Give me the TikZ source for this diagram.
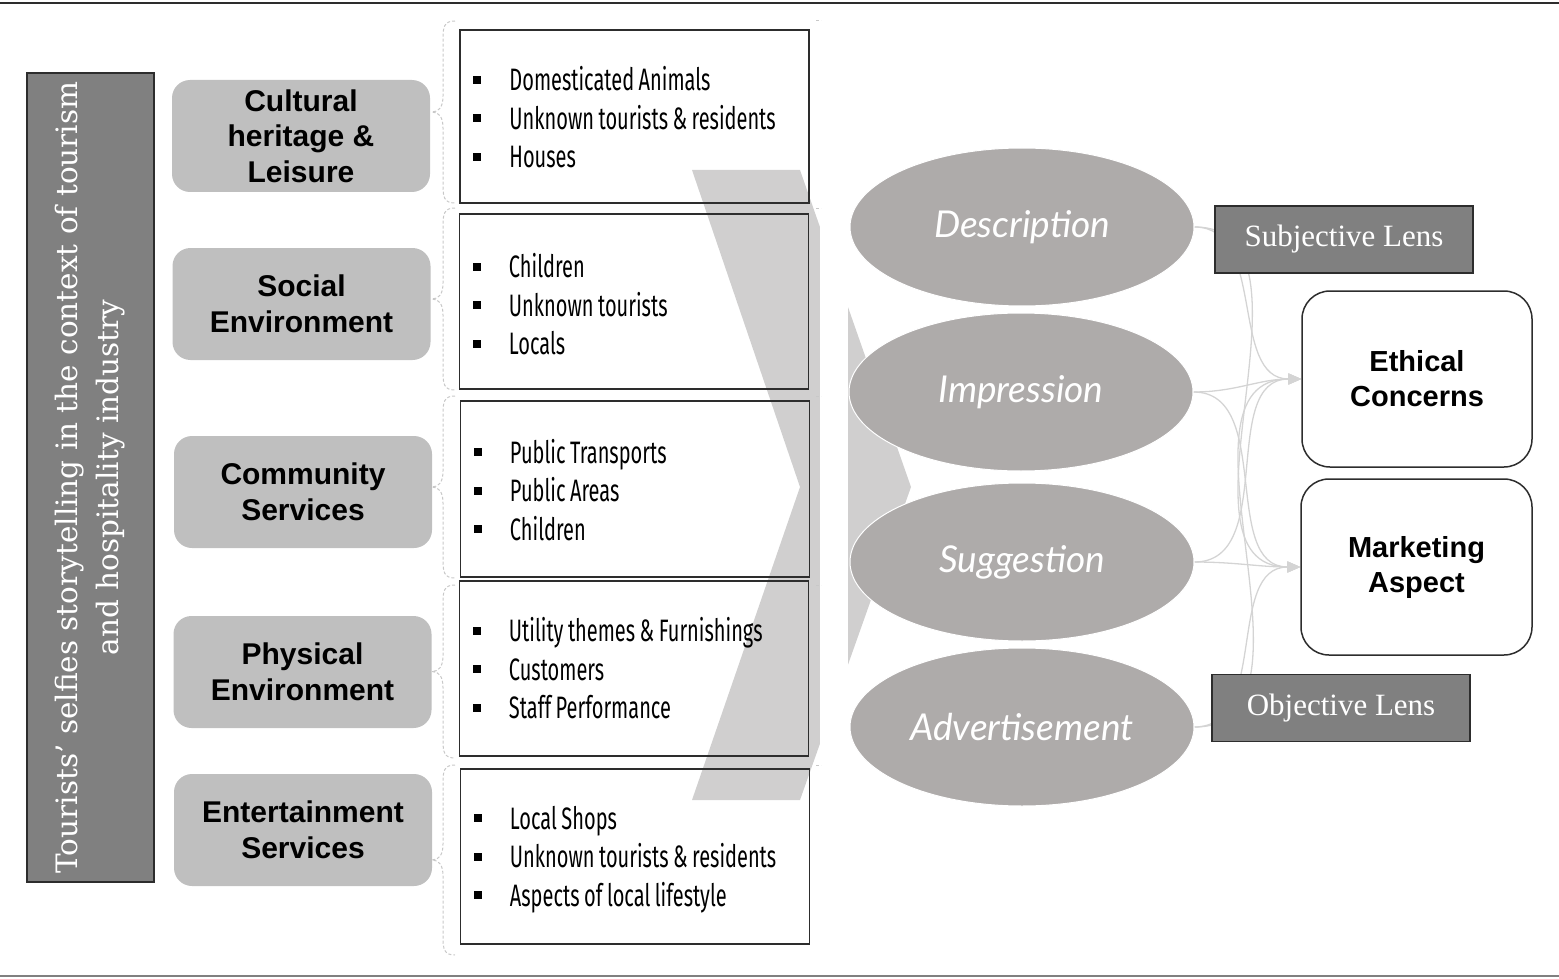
\documentclass[tikz,border=0pt]{standalone}
\usepackage{fontspec}
\setmainfont{Liberation Sans}
\newfontfamily\itemfont{Fira Sans}[FakeStretch=0.645, WordSpace=0.85]
\newfontfamily\ellfont{Lato}
\newfontfamily\lensfont{Liberation Serif}
\newfontfamily\vertfont{DejaVu Serif}
\usetikzlibrary{shapes.geometric,arrows.meta}
\definecolor{catgray}{RGB}{191,191,191}
\definecolor{ellgray}{RGB}{174,171,170}
\definecolor{chevgray}{RGB}{208,207,207}
\definecolor{darkbox}{RGB}{128,128,128}
\definecolor{edgedark}{RGB}{45,45,45}
\definecolor{braceg}{RGB}{200,200,200}
\definecolor{conng}{RGB}{212,212,212}
\pgfdeclarelayer{bg}
\pgfsetlayers{bg,main}
\newcommand{\bul}{\makebox[36pt][l]{\rule[7pt]{8pt}{8pt}}}
\tikzset{
  catbox/.style={fill=catgray, draw=none, rounded corners=18pt, minimum width=258pt, minimum height=112pt, align=center, inner sep=0pt, font=\fontsize{30}{35.5}\selectfont\bfseries},
  itembox/.style={draw=edgedark, line width=1.5pt, fill=none, minimum width=349pt, inner sep=0pt},
  itemtext/.style={anchor=west, xshift=14pt, inner sep=0pt, align=left, font=\itemfont\fontsize{31}{38.5}\selectfont},
  ellnode/.style={ellipse, fill=ellgray, draw=white, line width=1pt, minimum width=344pt, minimum height=158pt, inner sep=0pt, text=white, font=\ellfont\itshape\fontsize{37}{42}\selectfont},
  lensbox/.style={fill=darkbox, draw=edgedark, line width=1.5pt, minimum width=258pt, minimum height=67pt, inner sep=0pt, text=white, font=\lensfont\fontsize{31}{36}\selectfont},
  outbox/.style={fill=white, draw=edgedark, line width=1.5pt, rounded corners=28pt, minimum width=230pt, minimum height=176pt, align=center, inner sep=0pt, font=\fontsize{29}{35}\selectfont\bfseries},
  bracestyle/.style={draw=braceg, line width=1pt, dash pattern=on 3pt off 2pt},
  conn/.style={draw=conng, line width=1.3pt, -{Triangle[length=13pt,width=11pt,fill=conng]}},
}
\begin{document}
\begin{tikzpicture}[x=1pt,y=-1pt]
\useasboundingbox (0,0) rectangle (1559,979);
% frame lines
\coordinate (tl) at (0,3);
\coordinate (tr) at (1559,3);
\coordinate (bl) at (0,976);
\coordinate (br) at (1559,976);
\draw[edgedark, line width=2.2pt] (tl) -- (tr);
\draw[darkbox, line width=2pt] (bl) -- (br);

% left title bar
\node[fill=darkbox, draw=edgedark, line width=1.5pt, minimum width=127pt, minimum height=809pt, inner sep=0pt] (title) at (90.5,477.5) {};
\node[rotate=90, text=white, align=center, font=\vertfont\fontsize{29.5}{41}\selectfont] (titletext) at (title.center) {Tourists’ selfies storytelling in the context of tourism\\and hospitality industry};

% category boxes
\node[catbox] (c1) at (301,136) {Cultural\\heritage \&\\Leisure};
\node[catbox] (c2) at (301.5,304) {Social\\Environment};
\node[catbox] (c3) at (303,492) {Community\\Services};
\node[catbox] (c4) at (302.5,672) {Physical\\Environment};
\node[catbox] (c5) at (303,830) {Entertainment\\Services};

% braces
\foreach \ya/\yb in {21/203, 208/390, 396/578, 585/758, 765/955}{
  \pgfmathsetmacro{\ym}{(\ya+\yb)/2}
  \draw[bracestyle] (455,\ya) .. controls (444,\ya) and (443,\ya+6) .. (443,\ya+18)
     -- (443,\ym-16) .. controls (443,\ym-5) and (439,\ym) .. (432,\ym)
     .. controls (439,\ym) and (443,\ym+5) .. (443,\ym+16)
     -- (443,\yb-18) .. controls (443,\yb-6) and (444,\yb) .. (455,\yb);
  \draw[bracestyle] (816,\ya) -- (821,\ya);
}

% item boxes
\node[itembox, minimum height=173pt] (i1) at (634.5,116.5) {};
\node[itembox, minimum height=175pt] (i2) at (634,301.5) {};
\node[itembox, minimum height=176pt] (i3) at (635,489) {};
\node[itembox, minimum height=175pt] (i4) at (634,668.5) {};
\node[itembox, minimum height=175pt] (i5) at (635,856.5) {};
\node[itemtext] (t1) at ([yshift=-1pt]i1.west) {\bul Domesticated Animals\\\bul Unknown tourists \& residents\\\bul Houses};
\node[itemtext] (t2) at ([yshift=-3pt]i2.west) {\bul Children\\\bul Unknown tourists\\\bul Locals};
\node[itemtext] (t3) at ([yshift=-1pt]i3.west) {\bul Public Transports\\\bul Public Areas\\\bul Children};
\node[itemtext] (t4) at ([yshift=0pt]i4.west) {\bul Utility themes \& Furnishings\\\bul Customers\\\bul Staff Performance};
\node[itemtext] (t5) at ([yshift=-3pt]i5.west) {\bul Local Shops\\\bul Unknown tourists \& residents\\\bul Aspects of local lifestyle};

% ellipses
\node[ellnode] (desc) at (1022,227) {Description};
\node[ellnode] (impr) at (1021,392) {Impression};
\node[ellnode] (sugg) at (1022,562) {Suggestion};
\node[ellnode] (advt) at (1022,727) {Advertisement};

% lens boxes
\node[lensbox] (subj) at (1344,239.5) {Subjective Lens};
\node[lensbox] (obj) at (1341,708) {Objective Lens};

% outcome boxes
\node[outbox] (eth) at (1417,379) {Ethical\\Concerns};
\node[outbox, minimum width=231pt] (mkt) at (1416.5,567) {Marketing\\Aspect};

\begin{pgfonlayer}{bg}
  % chevron
  \fill[chevgray] (692,170) -- (800,170) -- (911,487) -- (800,800) -- (692,800) -- (800,487) -- cycle;
  \fill[white] (820,150) rectangle (848,820);
  % connectors
  \foreach \s in {desc,impr,sugg,advt}{
    \draw[conn] (\s.east) to[out=0,in=180] (eth.west);
    \draw[conn] (\s.east) to[out=0,in=180] (mkt.west);
  }
\end{pgfonlayer}
\end{tikzpicture}
\end{document}
